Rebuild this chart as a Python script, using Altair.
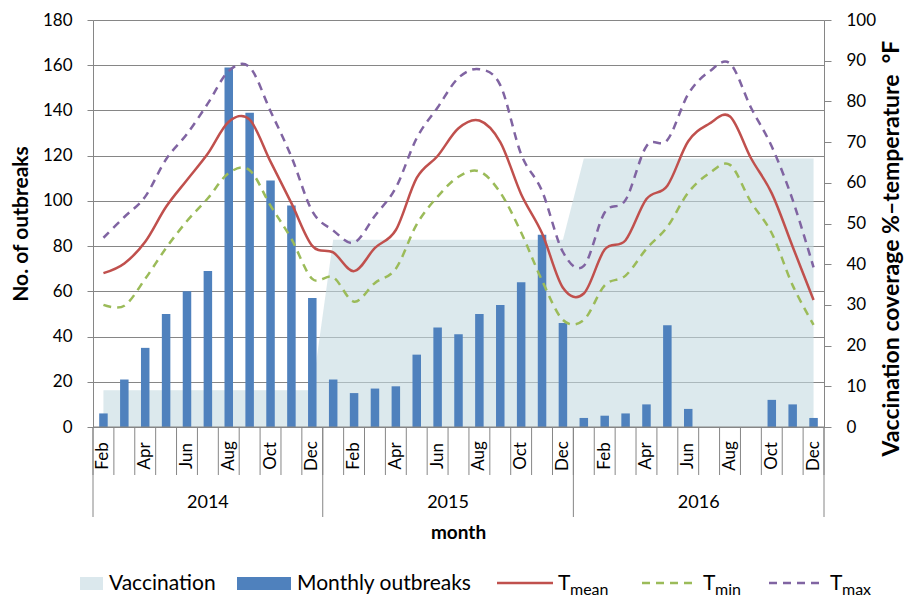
import altair as alt
import pandas as pd

# ---------------- data ----------------
years = ["2014", "2015", "2016"]
months_2014 = ["Feb", "Mar", "Apr", "May", "Jun", "Jul", "Aug", "Sep", "Oct", "Nov", "Dec"]
months_2015 = ["Jan", "Feb", "Mar", "Apr", "May", "Jun", "Jul", "Aug", "Sep", "Oct", "Nov", "Dec"]
months_2016 = ["Jan", "Feb", "Mar", "Apr", "May", "Jun", "Jul", "Aug", "Sep", "Oct", "Nov", "Dec"]
labelled_months = ["Feb", "Apr", "Jun", "Aug", "Oct", "Dec"]

outbreaks_2014 = [6, 21, 35, 50, 60, 69, 159, 139, 109, 98, 57]
outbreaks_2015 = [21, 15, 17, 18, 32, 44, 41, 50, 54, 64, 85, 46]
outbreaks_2016 = [4, 5, 6, 10, 45, 8, 0, 0, 0, 12, 10, 4]

vaccination_2014 = [9, 9, 9, 9, 9, 9, 9, 9, 9, 9, 9]
vaccination_2015 = [46, 46, 46, 46, 46, 46, 46, 46, 46, 46, 46, 46]
vaccination_2016 = [66, 66, 66, 66, 66, 66, 66, 66, 66, 66, 66, 66]

tmean_2014 = [37.8, 40.2, 45.5, 54.1, 60.7, 67.2, 75.0, 75.5, 65.2, 55.0, 44.5]
tmean_2015 = [42.9, 38.3, 44.0, 48.4, 61.2, 66.6, 73.4, 75.3, 70.0, 57.2, 47.6, 34.2]
tmean_2016 = [32.8, 43.6, 45.9, 56.0, 59.3, 70.2, 74.5, 76.3, 66.1, 57.4, 44.3, 31.2]

tmin_2014 = [30.0, 29.8, 36.4, 44.0, 50.6, 56.2, 62.4, 63.1, 54.4, 46.2, 36.4]
tmin_2015 = [36.8, 30.8, 35.4, 38.9, 49.8, 56.6, 61.5, 62.8, 57.6, 47.8, 36.0, 26.3]
tmin_2016 = [26.3, 34.8, 37.2, 43.8, 49.2, 57.6, 62.3, 64.4, 55.3, 47.6, 34.8, 25.1]

tmax_2014 = [46.5, 51.6, 56.6, 65.8, 72.0, 79.5, 87.5, 88.4, 77.6, 66.4, 53.0]
tmax_2015 = [48.3, 45.3, 51.9, 58.8, 71.0, 78.5, 85.8, 87.9, 84.0, 67.0, 58.0, 43.0]
tmax_2016 = [39.6, 52.7, 55.8, 69.0, 70.5, 81.8, 87.3, 89.3, 78.5, 68.9, 55.8, 39.2]

# ---------------- table ----------------
month_list = months_2014 + months_2015 + months_2016
year_list = [years[0]] * len(months_2014) + [years[1]] * len(months_2015) + [years[2]] * len(months_2016)
n = len(month_list)
df = pd.DataFrame({
    "idx": list(range(n)),
    "month": month_list,
    "year": year_list,
    "outbreaks": outbreaks_2014 + outbreaks_2015 + outbreaks_2016,
    "vaccination": vaccination_2014 + vaccination_2015 + vaccination_2016,
    "tmean": tmean_2014 + tmean_2015 + tmean_2016,
    "tmin": tmin_2014 + tmin_2015 + tmin_2016,
    "tmax": tmax_2014 + tmax_2015 + tmax_2016,
})
lab_df = df[df["month"].isin(labelled_months)]

# month boundaries and year boundaries / centres (derived from the month lists)
sep_df = pd.DataFrame({"xb": [i - 0.5 for i in range(n + 1)]})
counts = [len(months_2014), len(months_2015), len(months_2016)]
bounds = [-0.5]
for c in counts:
    bounds.append(bounds[-1] + c)
ybound_df = pd.DataFrame({"xb": bounds})
ycenter_df = pd.DataFrame({"xc": [(bounds[i] + bounds[i + 1]) / 2 for i in range(3)], "year": years})

# ---------------- style ----------------
FONT = "Lato"
GRAY = "#868686"
W, H = 731, 407
BLUE = "#4f81bd"
RED = "#c0504d"
GREEN = "#9bbb59"
PURPLE = "#8064a2"
PALE = "#c5dae1"

x_scale = alt.Scale(domain=[-0.5, n - 0.5], nice=False, zero=False, padding=0)
y_left = alt.Scale(domain=[0, 180], nice=False, zero=True)
y_right = alt.Scale(domain=[0, 100], nice=False, zero=True)

# vaccination area (right axis)
area = alt.Chart(df).mark_area(color=PALE, opacity=0.6, interpolate="linear").encode(
    x=alt.X("idx:Q", scale=x_scale, axis=None),
    y=alt.Y("vaccination:Q", scale=y_right, axis=alt.Axis(
        orient="right", values=list(range(0, 101, 10)), grid=False,
        tickSize=7, tickColor=GRAY, domainColor=GRAY, labelPadding=15,
        labelFont=FONT, labelFontSize=17, labelColor="#000",
        title="Vaccination coverage %\u2013temperature\u00a0\u00a0\u00b0F",
        titleFont=FONT, titleFontSize=23, titleFontWeight="bold", titleColor="#000",
        titleAngle=270, titleX=74, titleY=228, titleAlign="center", titleBaseline="alphabetic",
    )),
)

# monthly outbreaks bars (left axis)
bars = alt.Chart(df).mark_bar(size=8.5, color=BLUE).encode(
    x=alt.X("idx:Q", scale=x_scale, axis=None),
    y=alt.Y("outbreaks:Q", scale=y_left, axis=alt.Axis(
        orient="left", values=list(range(0, 181, 20)), grid=True, gridColor=GRAY, gridWidth=1,
        tickSize=6, tickColor=GRAY, domainColor=GRAY, labelPadding=15,
        labelFont=FONT, labelFontSize=17, labelColor="#000",
        title="No. of outbreaks", titleFont=FONT, titleFontSize=21, titleFontWeight="bold",
        titleColor="#000", titlePadding=11,
    )),
)


def temp_line(field, color, dash=None):
    kw = dict(color=color, strokeWidth=2.5, interpolate="cardinal", tension=0)
    if dash:
        kw["strokeDash"] = dash
    return alt.Chart(df).mark_line(**kw).encode(
        x=alt.X("idx:Q", scale=x_scale, axis=None),
        y=alt.Y(field + ":Q", scale=y_right, axis=None),
    )


l_mean = temp_line("tmean", RED)
l_min = temp_line("tmin", GREEN, [8, 6])
l_max = temp_line("tmax", PURPLE, [8, 6])

# category axis below the plot: baseline, separators, month and year labels
base_line = alt.Chart(pd.DataFrame({"t": [0]})).mark_rule(color=GRAY, strokeWidth=1).encode(
    x=alt.value(0), x2=alt.value(W), y=alt.value(H)
)
month_seps = alt.Chart(sep_df).mark_rule(color=GRAY, strokeWidth=1).encode(
    x=alt.X("xb:Q", scale=x_scale, axis=None), y=alt.value(H), y2=alt.value(H + 48)
)
year_seps = alt.Chart(ybound_df).mark_rule(color=GRAY, strokeWidth=1).encode(
    x=alt.X("xb:Q", scale=x_scale, axis=None), y=alt.value(H), y2=alt.value(H + 90)
)
month_text = alt.Chart(lab_df).mark_text(
    font=FONT, fontSize=17, angle=270, align="center", baseline="middle", color="#000"
).encode(
    x=alt.X("idx:Q", scale=x_scale, axis=None), y=alt.value(H + 29), text="month:N"
)
year_text = alt.Chart(ycenter_df).mark_text(font=FONT, fontSize=18, baseline="middle", color="#000").encode(
    x=alt.X("xc:Q", scale=x_scale, axis=None), y=alt.value(H + 76), text="year:N"
)
x_title = alt.Chart(pd.DataFrame({"t": ["month"]})).mark_text(
    font=FONT, fontSize=19, fontWeight="bold", baseline="middle", color="#000"
).encode(x=alt.value(W / 2), y=alt.value(H + 106), text="t:N")

# ---------------- custom legend ----------------
LY = 570  # text baseline (plot coordinates)


def lg_text(txt, x0, size=21, y=LY):
    return alt.Chart(pd.DataFrame({"t": [txt]})).mark_text(
        font=FONT, fontSize=size, align="left", baseline="alphabetic", color="#000"
    ).encode(x=alt.value(x0), y=alt.value(y), text="t:N")


def lg_rect(x0, x1, color):
    return alt.Chart(pd.DataFrame({"t": [0]})).mark_rect(color=color).encode(
        x=alt.value(x0), x2=alt.value(x1), y=alt.value(LY - 13), y2=alt.value(LY)
    )


def lg_line(x0, x1, color, dash=None):
    kw = dict(color=color, strokeWidth=2.5)
    if dash:
        kw["strokeDash"] = dash
    return alt.Chart(pd.DataFrame({"t": [0]})).mark_rule(**kw).encode(
        x=alt.value(x0), x2=alt.value(x1), y=alt.value(LY - 7)
    )


SUB = LY + 5
legend = [
    lg_rect(-13, 10, "#dbe8ed"), lg_text("Vaccination", 16),
    lg_rect(144, 198, BLUE), lg_text("Monthly outbreaks", 204),
    lg_line(404, 460, RED), lg_text("T", 465), lg_text("mean", 477, 16, SUB),
    lg_line(549, 604, GREEN, [8, 6]), lg_text("T", 610), lg_text("min", 622, 16, SUB),
    lg_line(676, 730, PURPLE, [8, 6]), lg_text("T", 737), lg_text("max", 749, 16, SUB),
]

# total SVG: 85 + 731 + 80 = 896 wide, 12 + 407 + 173 = 592 high (fits 912x608 with 8px margins)
chart = alt.layer(
    area, bars, l_min, l_max, l_mean, base_line, month_seps, year_seps,
    month_text, year_text, x_title, *legend
).resolve_scale(y="independent").properties(
    width=W, height=H,
    autosize=alt.AutoSizeParams(type="none"),
    padding={"left": 85, "top": 12, "right": 80, "bottom": 173},
).configure_view(stroke=None).configure(background="white")

chart.save("out.html", embed_options={"renderer": "svg", "actions": False})
